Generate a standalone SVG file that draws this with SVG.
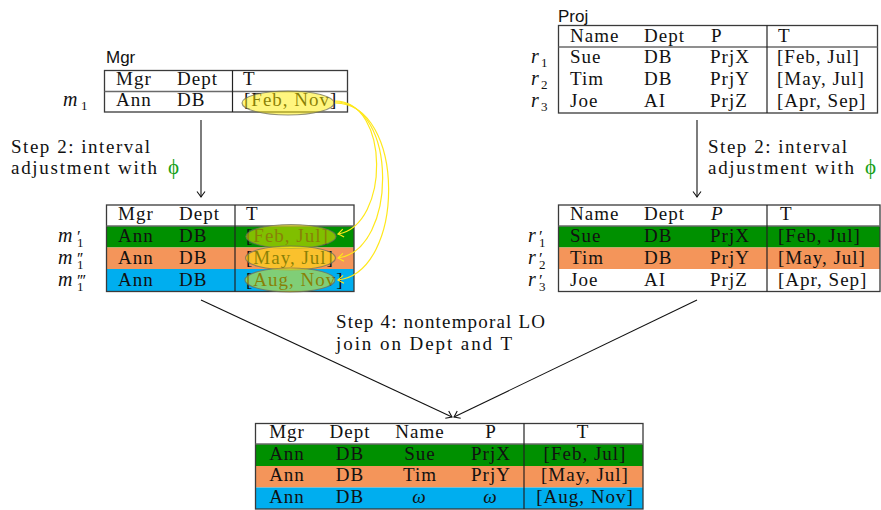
<svg xmlns="http://www.w3.org/2000/svg" width="881" height="510" viewBox="0 0 881 510">
  <style>
    .t { font-family: "Liberation Serif", "Times New Roman", serif; font-size: 19px; letter-spacing: 1px; fill: #111; }
    .c { text-anchor: middle; }
    .it { font-style: italic; letter-spacing: 0; }
    .mv { font-family: "Liberation Serif", "Times New Roman", serif; font-size: 20px; font-style: italic; fill: #111; }
    .sub { font-family: "Liberation Serif", "Times New Roman", serif; font-size: 13px; font-style: normal; fill: #111; }
    .pr { font-family: "Liberation Serif", "Times New Roman", serif; font-size: 17px; font-style: normal; letter-spacing: -1px; fill: #111; }
    .sans { font-family: "Liberation Sans", Arial, sans-serif; font-size: 17px; fill: #111; }
    .frame { fill: none; stroke: #3a3a3a; stroke-width: 1.3; }
    .hl { stroke: #6a6a6a; stroke-width: 1.3; }
    .vl { stroke: #222; stroke-width: 1.2; }
    .g { fill: #009000; }
    .o { fill: #f4955a; }
    .b { fill: #00aeef; }
    .hi { fill: #ffee00; fill-opacity: 0.5; stroke: #6f6f5a; stroke-opacity: 0.75; stroke-width: 1.2; }
    .phi { font-family: "Liberation Serif", "Times New Roman", serif; font-size: 21px; fill: #17a017; }
    .arrow { fill: none; stroke: #111; stroke-width: 1.1; marker-end: url(#tipBlack); }
    .link { fill: none; stroke: #ffe81a; stroke-width: 1.2; marker-end: url(#tipYellow); }
  </style>
  <defs>
    <marker id="tipBlack" viewBox="-7 -5 9 10" markerWidth="9" markerHeight="10" refX="0" refY="0" orient="auto" markerUnits="userSpaceOnUse">
      <path d="M-5.5,-4 Q-1.5,-1 0,0 Q-1.5,1 -5.5,4" fill="none" stroke="#111" stroke-width="1.1"/>
    </marker>
    <marker id="tipYellow" viewBox="-7 -5 9 10" markerWidth="9" markerHeight="10" refX="0" refY="0" orient="auto" markerUnits="userSpaceOnUse">
      <path d="M-5.5,-4 Q-1.5,-1 0,0 Q-1.5,1 -5.5,4" fill="none" stroke="#ffe81a" stroke-width="1.2"/>
    </marker>
  </defs>

  <rect width="881" height="510" fill="#fff"/>

  <!-- Mgr relation -->
  <g id="mgr">
    <text class="sans" x="106" y="63">Mgr</text>
    <rect class="frame" x="104.5" y="70.5" width="243" height="41.5"/>
    <line class="hl" x1="104.5" y1="91.5" x2="347.5" y2="91.5"/>
    <line class="vl" x1="232.5" y1="70.5" x2="232.5" y2="112"/>
    <text class="t" x="116" y="85">Mgr</text>
    <text class="t" x="177" y="85">Dept</text>
    <text class="t" x="243" y="85">T</text>
    <text class="t" x="116" y="106">Ann</text>
    <text class="t" x="177" y="106">DB</text>
    <text class="t" x="244" y="106">[Feb, Nov]</text>
    <text class="mv" x="63" y="106">m<tspan class="sub" x="81" y="110">1</tspan></text>
    <ellipse class="hi" cx="288" cy="103" rx="46" ry="12"/>
  </g>

  <!-- Mgr after interval adjustment -->
  <g id="mgr-adjusted">
    <rect class="g" x="106.5" y="226" width="247.5" height="21.5"/>
    <rect class="o" x="106.5" y="247.5" width="247.5" height="21.5"/>
    <rect class="b" x="106.5" y="269" width="247.5" height="22.5"/>
    <rect class="frame" x="106.5" y="205" width="247.5" height="86.5"/>
    <line class="hl" x1="106.5" y1="226" x2="354" y2="226"/>
    <line class="vl" x1="235" y1="205" x2="235" y2="291.5"/>
    <text class="t" x="118" y="220">Mgr</text>
    <text class="t" x="179" y="220">Dept</text>
    <text class="t" x="246" y="220">T</text>
    <text class="t" x="118" y="242">Ann</text>
    <text class="t" x="179" y="242">DB</text>
    <text class="t" x="246" y="242">[Feb, Jul]</text>
    <text class="t" x="118" y="264">Ann</text>
    <text class="t" x="179" y="264">DB</text>
    <text class="t" x="246" y="264">[May, Jul]</text>
    <text class="t" x="118" y="286">Ann</text>
    <text class="t" x="179" y="286">DB</text>
    <text class="t" x="246" y="286">[Aug, Nov]</text>
    <text class="mv" x="58" y="242">m<tspan class="pr" x="77" y="242">′</tspan><tspan class="sub" x="77" y="247">1</tspan></text>
    <text class="mv" x="58" y="264">m<tspan class="pr" x="77" y="264">′′</tspan><tspan class="sub" x="77" y="269">1</tspan></text>
    <text class="mv" x="58" y="286">m<tspan class="pr" x="77" y="286">′′′</tspan><tspan class="sub" x="77" y="291">1</tspan></text>
    <ellipse class="hi" cx="291" cy="236.5" rx="45" ry="12"/>
    <ellipse class="hi" cx="290.5" cy="258" rx="45" ry="12"/>
    <ellipse class="hi" cx="290" cy="280" rx="45" ry="12"/>
  </g>

  <!-- Proj relation -->
  <g id="proj">
    <text class="sans" x="558" y="22">Proj</text>
    <rect class="frame" x="558.5" y="25.5" width="319" height="87.5"/>
    <line class="hl" x1="558.5" y1="47" x2="877.5" y2="47"/>
    <line class="vl" x1="767" y1="25.5" x2="767" y2="113"/>
    <text class="t" x="570" y="42">Name</text>
    <text class="t" x="644" y="42">Dept</text>
    <text class="t" x="711" y="42">P</text>
    <text class="t" x="778" y="42">T</text>
    <text class="t" x="570" y="63">Sue</text>
    <text class="t" x="644" y="63">DB</text>
    <text class="t" x="710" y="63">PrjX</text>
    <text class="t" x="777" y="63">[Feb, Jul]</text>
    <text class="t" x="570" y="85">Tim</text>
    <text class="t" x="644" y="85">DB</text>
    <text class="t" x="710" y="85">PrjY</text>
    <text class="t" x="777" y="85">[May, Jul]</text>
    <text class="t" x="570" y="107">Joe</text>
    <text class="t" x="644" y="107">AI</text>
    <text class="t" x="710" y="107">PrjZ</text>
    <text class="t" x="777" y="107">[Apr, Sep]</text>
    <text class="mv" x="531" y="63">r<tspan class="sub" x="541" y="67">1</tspan></text>
    <text class="mv" x="531" y="85">r<tspan class="sub" x="541" y="89">2</tspan></text>
    <text class="mv" x="531" y="107">r<tspan class="sub" x="541" y="111">3</tspan></text>
  </g>

  <!-- Proj after interval adjustment -->
  <g id="proj-adjusted">
    <rect class="g" x="558.5" y="226" width="321.5" height="21.5"/>
    <rect class="o" x="558.5" y="247.5" width="321.5" height="21.5"/>
    <rect class="frame" x="558.5" y="205" width="321.5" height="86.5"/>
    <line class="hl" x1="558.5" y1="226" x2="880" y2="226"/>
    <line class="vl" x1="767" y1="205" x2="767" y2="291.5"/>
    <text class="t" x="570" y="220">Name</text>
    <text class="t" x="644" y="220">Dept</text>
    <text class="t it" x="711" y="220">P</text>
    <text class="t" x="780" y="220">T</text>
    <text class="t" x="570" y="242">Sue</text>
    <text class="t" x="644" y="242">DB</text>
    <text class="t" x="710" y="242">PrjX</text>
    <text class="t" x="778" y="242">[Feb, Jul]</text>
    <text class="t" x="570" y="264">Tim</text>
    <text class="t" x="644" y="264">DB</text>
    <text class="t" x="710" y="264">PrjY</text>
    <text class="t" x="778" y="264">[May, Jul]</text>
    <text class="t" x="570" y="286">Joe</text>
    <text class="t" x="644" y="286">AI</text>
    <text class="t" x="710" y="286">PrjZ</text>
    <text class="t" x="778" y="286">[Apr, Sep]</text>
    <text class="mv" x="528" y="242">r<tspan class="pr" x="539" y="242">′</tspan><tspan class="sub" x="539" y="247">1</tspan></text>
    <text class="mv" x="528" y="264">r<tspan class="pr" x="539" y="264">′</tspan><tspan class="sub" x="539" y="269">2</tspan></text>
    <text class="mv" x="528" y="286">r<tspan class="pr" x="539" y="286">′</tspan><tspan class="sub" x="539" y="291">3</tspan></text>
  </g>

  <!-- Join result -->
  <g id="result">
    <rect class="g" x="255.5" y="444" width="387.5" height="22"/>
    <rect class="o" x="255.5" y="466" width="387.5" height="21.5"/>
    <rect class="b" x="255.5" y="487.5" width="387.5" height="21.5"/>
    <rect class="frame" x="255.5" y="423.5" width="387.5" height="85.5"/>
    <line class="hl" x1="255.5" y1="444" x2="643" y2="444"/>
    <line class="vl" x1="524" y1="423.5" x2="524" y2="509"/>
    <text class="t c" x="287" y="438">Mgr</text>
    <text class="t c" x="350" y="438">Dept</text>
    <text class="t c" x="420" y="438">Name</text>
    <text class="t c" x="491" y="438">P</text>
    <text class="t c" x="583" y="438">T</text>
    <text class="t c" x="287" y="460">Ann</text>
    <text class="t c" x="350" y="460">DB</text>
    <text class="t c" x="420" y="460">Sue</text>
    <text class="t c" x="491" y="460">PrjX</text>
    <text class="t c" x="585" y="460">[Feb, Jul]</text>
    <text class="t c" x="287" y="481">Ann</text>
    <text class="t c" x="350" y="481">DB</text>
    <text class="t c" x="420" y="481">Tim</text>
    <text class="t c" x="491" y="481">PrjY</text>
    <text class="t c" x="585" y="481">[May, Jul]</text>
    <text class="t c" x="287" y="503">Ann</text>
    <text class="t c" x="350" y="503">DB</text>
    <text class="t c it" x="419" y="503">ω</text>
    <text class="t c it" x="490" y="503">ω</text>
    <text class="t c" x="585" y="503">[Aug, Nov]</text>
  </g>

  <!-- Step labels -->
  <g id="labels">
    <text class="t" x="11" y="153" textLength="140">Step 2: interval</text>
    <text class="t" x="11" y="174" textLength="147">adjustment with</text>
    <text class="phi" x="168" y="174">ϕ</text>
    <text class="t" x="708" y="153" textLength="140">Step 2: interval</text>
    <text class="t" x="708" y="174" textLength="147">adjustment with</text>
    <text class="phi" x="865" y="174">ϕ</text>
    <text class="t" x="336" y="328" textLength="210">Step 4: nontemporal LO</text>
    <text class="t" x="336" y="350" textLength="177">join on Dept and T</text>
  </g>

  <!-- Connectors -->
  <g id="connectors">
    <path class="arrow" d="M201,120 L201,197"/>
    <path class="arrow" d="M697,120 L697,197"/>
    <path class="arrow" d="M201,300 L452,417"/>
    <path class="arrow" d="M697,300 L454,417"/>
    <path class="link" d="M335,101 C390,101 390,225 338,234"/>
    <path class="link" d="M335,102 C398,102 398,250 338,258"/>
    <path class="link" d="M335,103 C406,103 406,272 338,280"/>
  </g>
</svg>
